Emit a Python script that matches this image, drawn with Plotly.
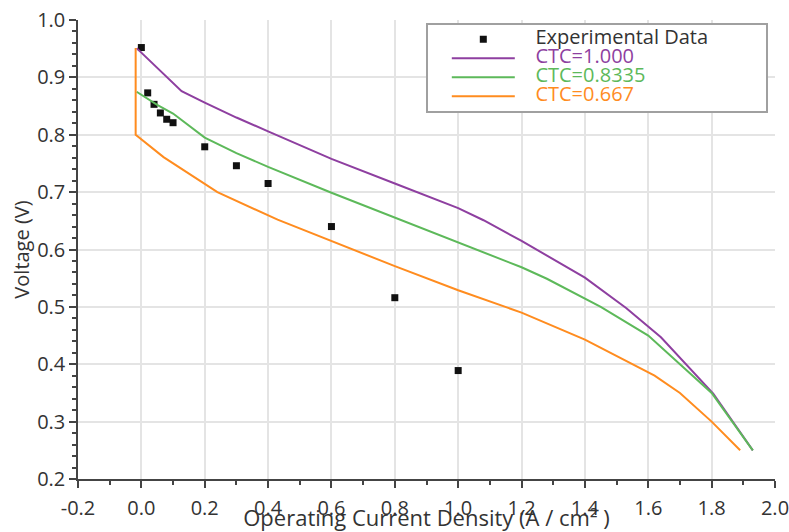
import plotly.graph_objects as go

# Measured polarization data
exp_current = [0.0, 0.02, 0.04, 0.06, 0.08, 0.10, 0.20, 0.30, 0.40, 0.60, 0.80, 1.00]
exp_voltage = [0.952, 0.873, 0.853, 0.838, 0.827, 0.821, 0.779, 0.746, 0.715, 0.640, 0.516, 0.389]

# Model curves for three CTC values
ctc1_current = [-0.015, 0.127, 0.20, 0.30, 0.40, 0.60, 0.80, 1.00, 1.08, 1.20, 1.40, 1.53, 1.64, 1.72, 1.805, 1.93]
ctc1_voltage = [0.951, 0.876, 0.856, 0.830, 0.806, 0.758, 0.715, 0.672, 0.651, 0.615, 0.551, 0.498, 0.447, 0.400, 0.349, 0.250]

ctc2_current = [-0.015, 0.05, 0.10, 0.20, 0.30, 0.40, 0.60, 0.80, 1.00, 1.20, 1.28, 1.45, 1.60, 1.80, 1.93]
ctc2_voltage = [0.875, 0.852, 0.837, 0.795, 0.768, 0.744, 0.699, 0.656, 0.613, 0.569, 0.549, 0.500, 0.450, 0.350, 0.250]

ctc3_current = [-0.018, -0.018, 0.07, 0.10, 0.24, 0.43, 0.60, 0.80, 1.00, 1.20, 1.40, 1.62, 1.70, 1.80, 1.89]
ctc3_voltage = [0.951, 0.800, 0.761, 0.750, 0.700, 0.652, 0.615, 0.571, 0.529, 0.490, 0.443, 0.380, 0.350, 0.300, 0.250]

# Axis ticks
x_tickvals = [-0.2, 0.0, 0.2, 0.4, 0.6, 0.8, 1.0, 1.2, 1.4, 1.6, 1.8, 2.0]
x_ticktext = ["-0.2", "0.0", "0.2", "0.4", "0.6", "0.8", "1.0", "1.2", "1.4", "1.6", "1.8", "2.0"]
y_tickvals = [0.2, 0.3, 0.4, 0.5, 0.6, 0.7, 0.8, 0.9, 1.0]
y_ticktext = ["0.2", "0.3", "0.4", "0.5", "0.6", "0.7", "0.8", "0.9", "1.0"]

PURPLE = "#8E3FA0"
GREEN = "#5DB95A"
ORANGE = "#FF8C1F"
TEXT = "#333333"

FONT = "Open Sans"

LEAD = "&nbsp;" * 3


def legend_label(text, color, trail=0):
    return (f"<span style='font-size:20px;color:{color}'>"
            f"{LEAD}{text}{'&nbsp;' * trail}</span>")


fig = go.Figure()
fig.add_trace(go.Scatter(
    x=exp_current, y=exp_voltage, mode="markers",
    marker=dict(symbol="square", size=7, color="#111111"),
    name=legend_label("Experimental Data", TEXT, trail=10),
))
fig.add_trace(go.Scatter(
    x=ctc1_current, y=ctc1_voltage, mode="lines",
    line=dict(color=PURPLE, width=2),
    name=legend_label("CTC=1.000", PURPLE),
))
fig.add_trace(go.Scatter(
    x=ctc2_current, y=ctc2_voltage, mode="lines",
    line=dict(color=GREEN, width=2),
    name=legend_label("CTC=0.8335", GREEN),
))
fig.add_trace(go.Scatter(
    x=ctc3_current, y=ctc3_voltage, mode="lines",
    line=dict(color=ORANGE, width=2),
    name=legend_label("CTC=0.667", ORANGE),
))

axis_common = dict(
    showline=True, linecolor="#444444", linewidth=1.5,
    ticks="outside", ticklen=7, tickcolor="#444444", tickwidth=1.5,
    showgrid=True, gridcolor="#e4e4e4", gridwidth=1.5,
    zeroline=False, automargin=False, ticklabeloverflow="allow",
    tickfont=dict(family=FONT, size=20, color=TEXT),
)

fig.update_xaxes(
    range=[-0.2, 2.0], tickmode="array", tickvals=x_tickvals, ticktext=x_ticktext,
    minor=dict(dtick=0.1, tick0=0, ticklen=4, tickcolor="#444444", showgrid=False),
    ticklabelstandoff=3,
    title=dict(text="Operating Current Density (A / cm² )",
               font=dict(family=FONT, size=22, color=TEXT), standoff=4),
    **axis_common,
)
fig.update_yaxes(
    range=[0.2, 1.0], tickmode="array", tickvals=y_tickvals, ticktext=y_ticktext,
    minor=dict(dtick=0.02, tick0=0, ticklen=4, tickcolor="#444444", showgrid=False),
    title=dict(text="Voltage (V)", font=dict(family=FONT, size=20, color=TEXT), standoff=2),
    **axis_common,
)

fig.update_layout(
    width=789, height=532,
    margin=dict(l=78, r=14, t=20, b=53),
    paper_bgcolor="white", plot_bgcolor="white",
    font=dict(family=FONT, color=TEXT),
    legend=dict(
        x=0.499, y=0.994, xanchor="left", yanchor="top",
        bgcolor="white", bordercolor="#a0a0a0", borderwidth=2,
        font=dict(family=FONT, size=12, color=TEXT),
        itemwidth=63, indentation=19, tracegroupgap=0,
    ),
    showlegend=True,
)

fig.write_html("out.html")
